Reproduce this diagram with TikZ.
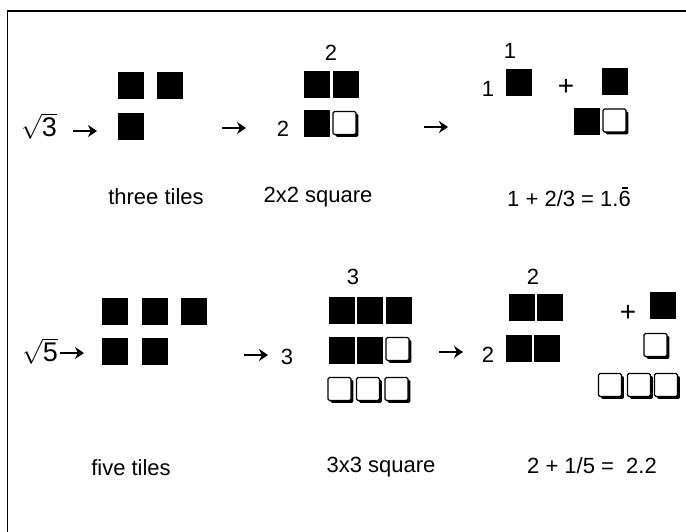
\documentclass[tikz,border=0pt]{standalone}
\usepackage{amsmath}
\usepackage{fontspec}
\setmainfont{Liberation Sans}
\usetikzlibrary{arrows.meta,shadows}
\begin{document}
\begin{tikzpicture}[x=1pt,y=-1pt,
  btile/.style={fill=black,minimum width=26pt,minimum height=27pt,inner sep=0pt},
  wtile/.style={draw=black,line width=1.2pt,fill=white,minimum width=23pt,minimum height=23pt,inner sep=0pt,rounded corners=1.5pt,
     drop shadow={shadow xshift=2.4pt,shadow yshift=-2.4pt,fill=black,opacity=1}},
  lbl/.style={font=\fontsize{22}{26}\selectfont,inner sep=0pt},
  rad/.style={font=\fontsize{27}{30}\selectfont,inner sep=0pt},
  plus/.style={font=\fontsize{28}{30}\selectfont,inner sep=0pt},
  arr/.style={line width=2.8pt,-{Stealth[length=9pt,width=12pt,inset=3pt]}},
  frame/.style={line width=1.5pt}]
\useasboundingbox (0,0) rectangle (686,532);
% frame (left and top edges)
\coordinate (fbl) at (7.5,532);
\coordinate (ftl) at (7.5,11);
\coordinate (ftr) at (686,11);
\draw[frame] (fbl) -- (ftl) -- (ftr);

% ===== Section 1 =====
\node[rad] (r3) at (39,126) {$\sqrt{\text{3}}$};
\coordinate (a1s) at (73,131); \coordinate (a1e) at (97,131);
\draw[arr] (a1s) -- (a1e);
\node[btile] (t1a) at (131,85.5) {};
\node[btile] (t1b) at (170,85.5) {};
\node[btile] (t1c) at (131,126.5) {};
\coordinate (a2s) at (222,128); \coordinate (a2e) at (246,128);
\draw[arr] (a2s) -- (a2e);
\node[lbl] (n2l) at (283,129) {2};
\node[lbl] (n2t) at (331,53) {2};
\node[btile] (s1a) at (316.5,84.5) {};
\node[btile] (s1b) at (345.5,84.5) {};
\node[btile] (s1c) at (316.5,124) {};
\node[wtile] (s1d) at (344.5,123) {};
\coordinate (a3s) at (424,127); \coordinate (a3e) at (448,127);
\draw[arr] (a3s) -- (a3e);
\node[lbl] (n1t) at (510,51) {1};
\node[lbl] (n1l) at (488,89) {1};
\node[btile] (q1a) at (519,82.5) {};
\node[plus] (pl1) at (566,87) {+};
\node[btile] (q1b) at (614.5,81.5) {};
\node[btile] (q1c) at (586.5,121.5) {};
\node[wtile] (q1d) at (614.5,120.5) {};
\node[lbl] (c1a) at (156,197) {three tiles};
\node[lbl] (c1b) at (318,197) {2x2 square};
\node[lbl] (c1c) at (569,197) {1 + 2/3 = 1.\rlap{\hspace{0.14em}\rule[0.8em]{0.3em}{0.09em}}6};

% ===== Section 2 =====
\node[rad] (r5) at (40,351) {$\sqrt{\text{5}}$};
\coordinate (b1s) at (60,353); \coordinate (b1e) at (84,353);
\draw[arr] (b1s) -- (b1e);
\node[btile] (f1) at (115,311.5) {};
\node[btile] (f2) at (154.5,311.5) {};
\node[btile] (f3) at (194,311.5) {};
\node[btile] (f4) at (115,351.5) {};
\node[btile] (f5) at (154.5,351.5) {};
\coordinate (b2s) at (244,355); \coordinate (b2e) at (268,355);
\draw[arr] (b2s) -- (b2e);
\node[lbl] (n3l) at (287,357) {3};
\node[lbl] (n3t) at (353,277) {3};
\node[btile] (g1) at (341.5,310) {};
\node[btile] (g2) at (370,310) {};
\node[btile] (g3) at (398.5,310) {};
\node[btile] (g4) at (341.5,350) {};
\node[btile] (g5) at (370,350) {};
\node[wtile] (g6) at (397.5,349) {};
\node[wtile] (g7) at (339.5,389) {};
\node[wtile] (g8) at (368,389) {};
\node[wtile] (g9) at (396.5,389) {};
\coordinate (b3s) at (439,352); \coordinate (b3e) at (463,352);
\draw[arr] (b3s) -- (b3e);
\node[lbl] (n2b) at (488,355) {2};
\node[lbl] (n2c) at (533,277) {2};
\node[btile] (h1) at (521.5,307) {};
\node[btile] (h2) at (550,307) {};
\node[btile] (h3) at (518.5,348) {};
\node[btile] (h4) at (546.5,348) {};
\node[plus] (pl2) at (628,313) {+};
\node[btile] (h5) at (662.5,305) {};
\node[wtile] (h6) at (655.5,345) {};
\node[wtile] (h7) at (610,385) {};
\node[wtile] (h8) at (639,385) {};
\node[wtile] (h9) at (666,385) {};
\node[lbl] (c2a) at (131,468) {five tiles};
\node[lbl] (c2b) at (381,467) {3x3 square};
\node[lbl] (c2c) at (592,466) {2 + 1/5 =\ \ 2.2};
\end{tikzpicture}
\end{document}
